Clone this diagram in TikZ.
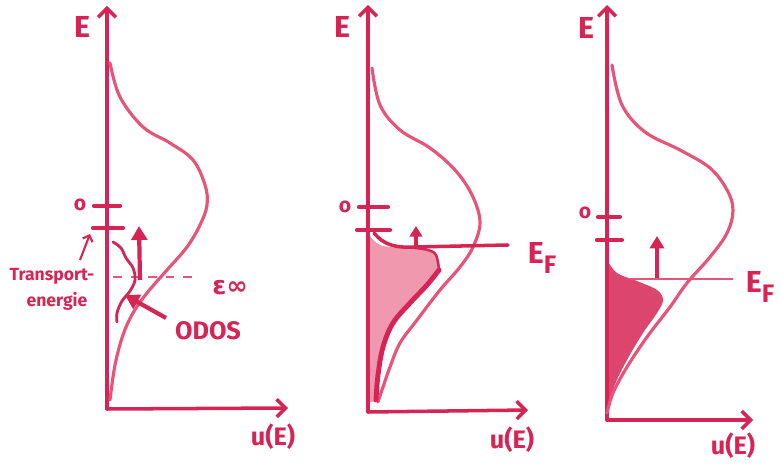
\documentclass[tikz,border=0pt]{standalone}
\usepackage{fontspec}
\setmainfont{Fira Sans}
\newfontfamily\symfont{DejaVu Sans}
\usetikzlibrary{arrows.meta}
\definecolor{ink}{RGB}{214,36,84}
\definecolor{inkl}{RGB}{230,85,120}
\begin{document}
\begin{tikzpicture}[x=0.02cm,y=-0.02cm,
  axis/.style={draw=ink, line width=2pt, line cap=round, -{Straight Barb[length=5pt,width=10pt]}},
  curve/.style={draw=inkl, line width=1.8pt, line cap=round},
  tickmark/.style={draw=ink, line width=2.4pt, line cap=round},
  lbl/.style={text=ink, font=\bfseries},
  biglbl/.style={text=ink, font=\bfseries\LARGE},
  fatarrow/.style={draw=ink, line width=2.4pt, -{Triangle[length=8pt,width=9pt]}},
  thinarrow/.style={draw=ink, line width=1.2pt, -{Straight Barb[length=3pt,width=6pt]}}]
\useasboundingbox (0,0) rectangle (781,465);

% ---------- panel 1 ----------
\coordinate (o1) at (107,409);
\coordinate (t1) at (107,6);
\coordinate (r1) at (288,408);
\draw[axis] (o1) -- (t1);
\draw[axis] (o1) -- (r1);
\node[biglbl] (E1) at (82,27) {E};
\node[lbl, font=\bfseries\Large] (u1) at (273,437) {u(E)};
\draw[curve] plot[smooth, tension=0.6] coordinates {(110,63) (120,97) (143,127) (170,143) (193,160) (205,185) (207,205) (200,225) (187,247) (167,270) (147,293) (133,313) (123,335) (115,365) (110,400)};
\node[lbl, font=\bfseries\large] (z1) at (80,205) {o};
\draw[tickmark] (94,206) -- (120,206);
\draw[tickmark] (93,228) -- (123,228);
\coordinate (ta) at (80,260);
\coordinate (tb) at (90,234);
\draw[thinarrow] (ta) -- (tb);
\node[lbl, font=\bfseries\normalsize] (tr1) at (52,276) {Transport-};
\node[lbl, font=\bfseries\normalsize] (tr2) at (57,301) {energie};
\draw[inkl, line width=1.3pt, dashed, dash pattern=on 5pt off 5pt] (113,277) -- (196,277);
\node[text=ink, font=\Large] (einf) at (230,288) {\symfont\bfseries ε∞};
\draw[ink, line width=1.6pt, line cap=round] plot[smooth, tension=0.6] coordinates {(113,242) (121,248) (126,258) (133,268) (135,280) (130,291) (122,301) (117,313) (117,322)};
\coordinate (ua) at (140,280);
\coordinate (ub) at (139,226);
\draw[fatarrow] (ua) -- (ub);
\node[lbl, font=\bfseries\Large] (odos) at (208,331) {ODOS};
\coordinate (oa) at (166,318);
\coordinate (ob) at (125,295);
\draw[fatarrow] (oa) -- (ob);

% ---------- panel 2 ----------
\coordinate (o2) at (368,412);
\coordinate (t2) at (368,5);
\coordinate (r2) at (528,410);
\fill[inkl, opacity=0.6] plot[smooth, tension=0.6] coordinates {(370,236) (380,245) (400,248) (420,249) (436,255) (439,270) (427,285) (410,303) (393,323) (383,347) (378,375) (374,402)} -- (370,402) -- cycle;
\draw[axis] (o2) -- (t2);
\draw[axis] (o2) -- (r2);
\node[biglbl] (E2) at (342,27) {E};
\node[lbl, font=\bfseries\Large] (u2) at (512,440) {u(E)};
\draw[curve] plot[smooth, tension=0.6] coordinates {(372,68) (380,105) (400,130) (430,148) (455,170) (472,195) (480,222) (473,247) (460,267) (440,290) (417,320) (400,343) (390,367) (383,387) (378,402)};
\node[lbl, font=\bfseries\large] (z2) at (345,207) {o};
\draw[tickmark] (359,207) -- (388,207);
\draw[tickmark] (357,230) -- (390,230);
\draw[ink, line width=2pt, line cap=round] (374,233) .. controls (384,245) and (395,248) .. (415,247) -- (508,245);
\draw[ink, line width=1.4pt, line cap=round] plot[smooth, tension=0.6] coordinates {(415,248) (428,250) (436,255) (439,270)};
\draw[ink, line width=2.8pt, line cap=round] plot[smooth, tension=0.6] coordinates {(439,270) (427,285) (410,303) (393,323) (383,347) (378,375) (376,400)};
\coordinate (fa) at (416,246);
\coordinate (fb) at (416,226);
\draw[fatarrow, line width=1.8pt, -{Triangle[length=6pt,width=7pt]}] (fa) -- (fb);
\node[biglbl] (ef2) at (542,258) {E\raisebox{-0.6ex}{\Large F}};

% ---------- panel 3 ----------
\coordinate (o3) at (607,420);
\coordinate (t3) at (607,5);
\coordinate (r3) at (753,420);
\fill[ink, opacity=0.85] plot[smooth, tension=0.6] coordinates {(607,260) (617,273) (637,281) (657,290) (663,300) (657,313) (643,333) (627,360) (614,387) (608,413)} -- (605,413) -- cycle;
\draw[axis] (o3) -- (t3);
\draw[axis] (o3) -- (r3);
\node[biglbl] (E3) at (586,28) {E};
\node[lbl, font=\bfseries\Large] (u3) at (733,446) {u(E)};
\draw[curve] plot[smooth, tension=0.6] coordinates {(612,65) (622,105) (645,132) (680,150) (710,168) (727,190) (733,210) (727,233) (710,257) (687,283) (670,307) (647,337) (627,367) (613,393) (607,413)};
\node[lbl, font=\bfseries\large] (z3) at (585,213) {o};
\draw[tickmark] (598,217) -- (620,217);
\draw[tickmark] (597,240) -- (622,240);
\draw[inkl, line width=1.3pt] (630,279) -- (733,279);
\coordinate (ga) at (657,278);
\coordinate (gb) at (657,236);
\draw[fatarrow, line width=2pt, -{Triangle[length=7pt,width=8pt]}] (ga) -- (gb);
\node[biglbl] (ef3) at (760,287) {E\raisebox{-0.6ex}{\Large F}};
\end{tikzpicture}
\end{document}
